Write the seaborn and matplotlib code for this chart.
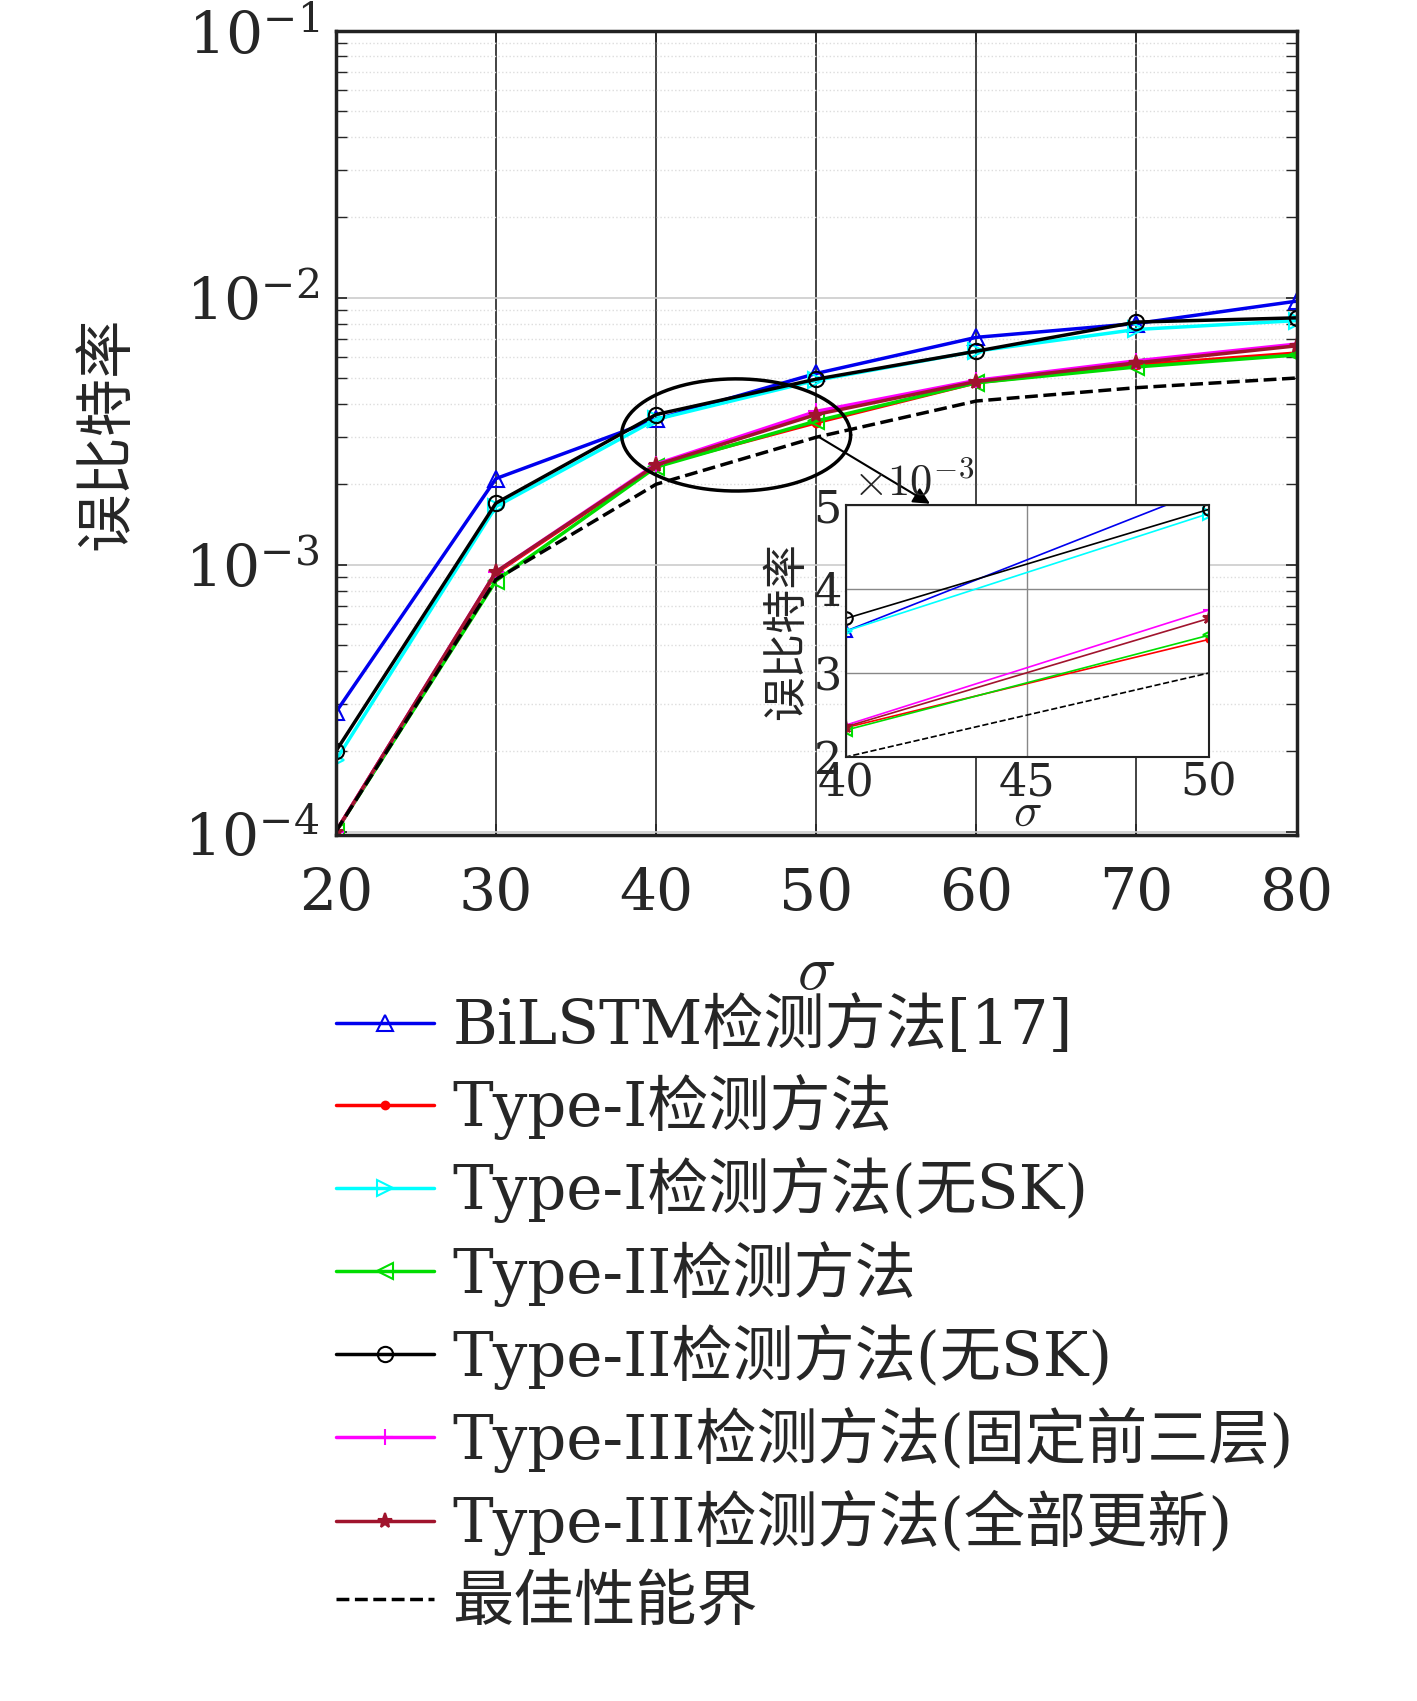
import numpy as np
import pandas as pd
import seaborn as sns
import matplotlib
matplotlib.use('Agg')
import matplotlib.pyplot as plt
from matplotlib.ticker import LogLocator, LogFormatterMathtext, NullFormatter

sigma = [20, 30, 40, 50, 60, 70, 80]
bilstm = [2.8e-4, 2.1e-3, 3.5e-3, 5.2e-3, 7.1e-3, 8.0e-3, 9.7e-3]
type1 = [1e-4, 9.3e-4, 2.35e-3, 3.4e-3, 4.8e-3, 5.6e-3, 6.2e-3]
type1_nosk = [1.85e-4, 1.65e-3, 3.5e-3, 4.9e-3, 6.3e-3, 7.6e-3, 8.2e-3]
type2 = [1e-4, 8.7e-4, 2.32e-3, 3.45e-3, 4.8e-3, 5.5e-3, 6.1e-3]
type2_nosk = [2.0e-4, 1.7e-3, 3.65e-3, 4.95e-3, 6.3e-3, 8.1e-3, 8.4e-3]
type3_fix = [1e-4, 9.4e-4, 2.38e-3, 3.75e-3, 4.9e-3, 5.8e-3, 6.7e-3]
type3_all = [1e-4, 9.4e-4, 2.36e-3, 3.65e-3, 4.85e-3, 5.7e-3, 6.6e-3]
bound = [1e-4, 8.8e-4, 2.0e-3, 3.0e-3, 4.1e-3, 4.6e-3, 5.0e-3]

labels = ['BiLSTM检测方法[17]', 'Type-I检测方法', 'Type-I检测方法(无SK)', 'Type-II检测方法',
          'Type-II检测方法(无SK)', 'Type-III检测方法(固定前三层)', 'Type-III检测方法(全部更新)', '最佳性能界']
series = [bilstm, type1, type1_nosk, type2, type2_nosk, type3_fix, type3_all, bound]
colors = ['#0000ee', '#ff0000', '#00ffff', '#00dd00', '#000000', '#ff00ff', '#a0142d', '#000000']
markers = ['^', '.', '>', '<', 'o', '+', '*', None]
styles = ['-'] * 7 + ['--']

df = pd.DataFrame({lab: s for lab, s in zip(labels, series)})
df['sigma'] = sigma
long = df.melt(id_vars='sigma', var_name='method', value_name='ber')

sns.set_theme(style='white')
plt.rcParams['font.family'] = ['DejaVu Serif', 'Noto Sans CJK SC']
plt.rcParams['mathtext.fontset'] = 'cm'

fig = plt.figure(figsize=(14.17, 17.01), dpi=100)
ax = fig.add_axes([0.237, 0.509, 0.678, 0.473])

def draw(a, lw, ms, main=True):
    for lab, c, m, ls in zip(labels, colors, markers, styles):
        d = long[long.method == lab]
        sns.lineplot(data=d, x='sigma', y='ber', ax=a, color=c, linestyle=ls, lw=lw,
                     marker=m, markersize=ms, markerfacecolor='none' if m in ['^', 'o', '>', '<'] else c,
                     markeredgecolor=c, markeredgewidth=1.5, label=lab if main else None, legend=False)

draw(ax, 2.5, 11)
ax.set_yscale('log')
ax.set_xlim(20, 80)
ax.set_ylim(9.7e-5, 0.1)
ax.set_xticks(sigma)
ax.yaxis.set_major_locator(LogLocator(base=10, numticks=10))
ax.yaxis.set_major_formatter(LogFormatterMathtext())
ax.yaxis.set_minor_locator(LogLocator(base=10, subs=np.arange(2, 10), numticks=20))
ax.yaxis.set_minor_formatter(NullFormatter())
ax.grid(axis='x', color='#222222', lw=1.2)
ax.grid(axis='y', which='major', color='#cccccc', lw=1.2)
ax.grid(axis='y', which='minor', color='#dddddd', ls=':', lw=1)
ax.tick_params(labelsize=42, direction='in', length=8, which='both', left=True, bottom=True, top=True, right=True)
ax.tick_params(axis='x', pad=22)
ax.tick_params(axis='y', pad=12)
for sp in ax.spines.values():
    sp.set_color('#222222'); sp.set_linewidth(2.5)
ax.set_xlabel(r'$\sigma$', fontsize=46, labelpad=14)
ax.set_ylabel('误比特率', fontsize=42, labelpad=35)

# ellipse around sigma 40-50 region
t = np.linspace(0, 2 * np.pi, 200)
ex = 45 + 7.15 * np.cos(t)
ey = 10 ** (np.log10(3.06e-3) + 0.21 * np.sin(t))
ax.plot(ex, ey, color='black', lw=2.5)
ax.annotate('', xy=(0.658, 0.703), xycoords='figure fraction', xytext=(50, 3.05e-3),
            textcoords='data', arrowprops=dict(arrowstyle='-|>', color='black', lw=1.5, mutation_scale=25))

ins = fig.add_axes([0.597, 0.555, 0.256, 0.148])
draw(ins, 1.2, 9, main=False)
ins.set_xlim(40, 50)
ins.set_ylim(2e-3, 5e-3)
ins.set_xticks([40, 45, 50])
ins.set_yticks([2e-3, 3e-3, 4e-3, 5e-3])
ins.set_yticklabels(['2', '3', '4', '5'])
ins.text(0.02, 1.04, r'$\times10^{-3}$', transform=ins.transAxes, fontsize=32)
ins.grid(True, color='#888888', lw=1)
ins.tick_params(labelsize=32, direction='in', pad=3)
for sp in ins.spines.values():
    sp.set_color('#222222'); sp.set_linewidth(1.5)
ins.set_xlabel(r'$\sigma$', fontsize=34, labelpad=-10)
ins.set_ylabel('误比特率', fontsize=32, labelpad=4)

handles, labs = ax.get_legend_handles_labels()
fig.legend(handles, labs, loc='upper left', bbox_to_anchor=(0.22, 0.428), frameon=False,
           fontsize=44, handlelength=1.6, handletextpad=0.3, labelspacing=0.28, borderaxespad=0)

fig.savefig('out.png', dpi=100)
